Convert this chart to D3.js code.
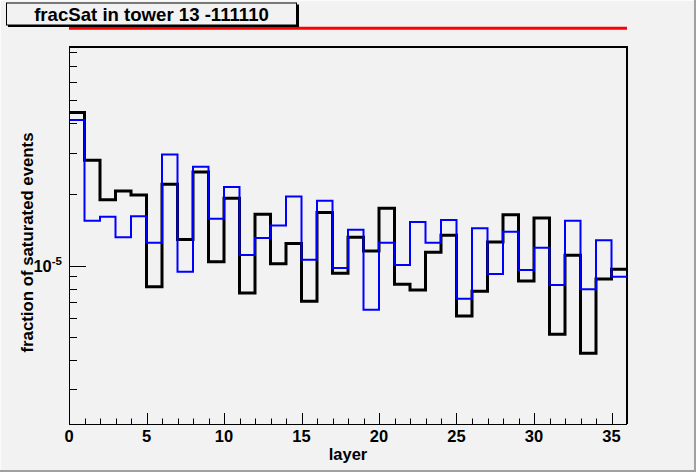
<!DOCTYPE html>
<html>
<head>
<meta charset="utf-8">
<script src="https://cdn.jsdelivr.net/npm/d3@7"></script>
<style>
  html, body { margin: 0; padding: 0; background: #f2f2f2; }
  svg { display: block; font-family: "Liberation Sans", Arial, sans-serif; font-weight: bold; }
</style>
</head>
<body>
<svg id="chart" width="696" height="472"></svg>
<script>
// ---- data ----
const layers = d3.range(0, 36);            // bin low edges, width 1
const blackValues = [4.44e-5, 2.79e-5, 1.90e-5, 2.07e-5, 1.99e-5, 0.815e-5, 2.21e-5, 1.29e-5, 2.49e-5, 1.04e-5,
                     1.93e-5, 0.766e-5, 1.65e-5, 1.02e-5, 1.24e-5, 0.707e-5, 1.68e-5, 0.929e-5, 1.32e-5, 1.154e-5,
                     1.75e-5, 0.834e-5, 0.789e-5, 1.14e-5, 1.345e-5, 0.613e-5, 0.779e-5, 1.26e-5, 1.64e-5, 0.862e-5,
                     1.59e-5, 0.513e-5, 1.106e-5, 0.426e-5, 0.878e-5, 0.965e-5];
const blueValues  = [4.13e-5, 1.55e-5, 1.61e-5, 1.32e-5, 1.62e-5, 1.25e-5, 2.95e-5, 0.943e-5, 2.62e-5, 1.58e-5,
                     2.15e-5, 1.11e-5, 1.31e-5, 1.48e-5, 1.96e-5, 1.06e-5, 1.88e-5, 0.978e-5, 1.42e-5, 0.651e-5,
                     1.25e-5, 1.007e-5, 1.53e-5, 1.25e-5, 1.56e-5, 0.725e-5, 1.44e-5, 0.922e-5, 1.39e-5, 0.959e-5,
                     1.19e-5, 0.829e-5, 1.55e-5, 0.795e-5, 1.28e-5, 0.898e-5];
const xTickLabels = [0, 5, 10, 15, 20, 25, 30, 35];
const yMajorTicks = [1e-5];
const yMinorTicks = [3e-6, 4e-6, 5e-6, 6e-6, 7e-6, 8e-6, 9e-6, 2e-5, 3e-5, 4e-5, 5e-5, 6e-5, 7e-5, 8e-5];
const xDomain = [0, 36];
const yDomain = [2.14e-6, 8.41e-5];
const titleText = "fracSat in tower 13 -111110";
const xTitle = "layer";
const yTitle = "fraction of saturated events";

// ---- layout ----
const W = 696, H = 472;
const L = 69, R = 627, T = 47, B = 424;
const svg = d3.select("#chart");
const x = d3.scaleLinear().domain(xDomain).range([L, R]);
const y = d3.scaleLog().domain(yDomain).range([B, T]);

// canvas background & borders
svg.append("rect").attr("x", 0).attr("y", 0).attr("width", W).attr("height", H).attr("fill", "#f2f2f2");
svg.append("rect").attr("x", 0).attr("y", 0).attr("width", W).attr("height", 1).attr("fill", "#fbfbfb");
svg.append("rect").attr("x", 0).attr("y", 0).attr("width", 1).attr("height", H).attr("fill", "#fbfbfb");
svg.append("rect").attr("x", W - 2).attr("y", 0).attr("width", 2).attr("height", H).attr("fill", "#a0a0a0");
svg.append("rect").attr("x", 0).attr("y", H - 2).attr("width", W).attr("height", 2).attr("fill", "#a0a0a0");

// red line above frame
svg.append("line")
  .attr("x1", x(xDomain[0])).attr("x2", x(xDomain[1]))
  .attr("y1", 28.3).attr("y2", 28.3)
  .attr("stroke", "#ff0000").attr("stroke-width", 3);

// frame (top/right)
svg.append("path")
  .attr("d", `M${L},${T}H${R}V${B}`)
  .attr("fill", "none").attr("stroke", "#000").attr("stroke-width", 2);

// histograms
function stepPath(vals) {
  const pts = vals.map((v, i) => [layers[i], v]);
  pts.push([xDomain[1], vals[vals.length - 1]]);
  return d3.line().x(d => x(d[0])).y(d => y(d[1])).curve(d3.curveStepAfter)(pts);
}
const plot = svg.append("g");
plot.append("path").attr("d", stepPath(blackValues))
  .attr("fill", "none").attr("stroke", "#000").attr("stroke-width", 3).attr("stroke-linejoin", "miter");
plot.append("path").attr("d", stepPath(blueValues))
  .attr("fill", "none").attr("stroke", "#0000ff").attr("stroke-width", 2).attr("stroke-linejoin", "miter");

// axes
const ax = svg.append("g").attr("stroke", "#000").attr("stroke-width", 1);
ax.append("line").attr("x1", L).attr("x2", R).attr("y1", B + 0.5).attr("y2", B + 0.5);
ax.append("line").attr("x1", L + 0.5).attr("x2", L + 0.5).attr("y1", T).attr("y2", B);

// x ticks
d3.range(xDomain[0], xDomain[1] + 1).forEach(v => {
  const major = v % 5 === 0;
  ax.append("line").attr("x1", Math.round(x(v)) + 0.5).attr("x2", Math.round(x(v)) + 0.5)
    .attr("y1", B).attr("y2", B - (major ? 11 : 5.5));
});
svg.append("g").selectAll("text").data(xTickLabels).join("text")
  .attr("x", d => x(d)).attr("y", 442)
  .attr("text-anchor", "middle").attr("font-size", 16.5).attr("fill", "#000")
  .text(d => d);

// y ticks
yMajorTicks.forEach(v => {
  ax.append("line").attr("x1", L).attr("x2", L + 17)
    .attr("y1", Math.round(y(v)) + 0.5).attr("y2", Math.round(y(v)) + 0.5);
});
yMinorTicks.forEach(v => {
  ax.append("line").attr("x1", L).attr("x2", L + 8)
    .attr("y1", Math.round(y(v)) + 0.5).attr("y2", Math.round(y(v)) + 0.5);
});
yMajorTicks.forEach(v => {
  const exp = Math.round(Math.log10(v));
  const t = svg.append("text").attr("x", 62).attr("y", y(v) + 6.5)
    .attr("text-anchor", "end").attr("font-size", 16.5).attr("fill", "#000");
  t.append("tspan").text("10");
  t.append("tspan").attr("font-size", 11.5).attr("dy", -7).text(String(exp));
});

// axis titles
svg.append("text").attr("x", (L + R) / 2).attr("y", 460)
  .attr("text-anchor", "middle").attr("font-size", 16.5).attr("fill", "#000").text(xTitle);
svg.append("text").attr("transform", `translate(33.3,242.5) rotate(-90)`)
  .attr("text-anchor", "middle").attr("font-size", 16.8).attr("fill", "#000").text(yTitle);

// title box
svg.append("rect").attr("x", 8).attr("y", 4.5).attr("width", 291).attr("height", 22.5).attr("fill", "#000");
svg.append("rect").attr("x", 6.5).attr("y", 3).attr("width", 290).attr("height", 22)
  .attr("fill", "#f2f2f2").attr("stroke", "#000").attr("stroke-width", 1);
svg.append("text").attr("x", 151.5).attr("y", 20.7)
  .attr("text-anchor", "middle").attr("font-size", 18.6).attr("fill", "#000").text(titleText);
</script>
</body>
</html>
